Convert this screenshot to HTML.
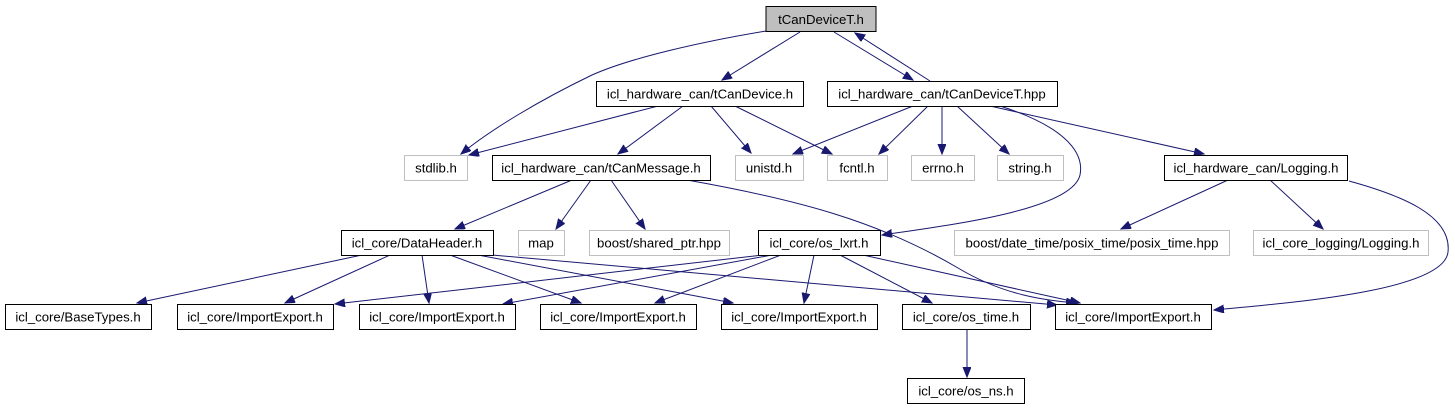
<!DOCTYPE html>
<html><head><meta charset="utf-8"><style>
html,body{margin:0;padding:0;background:#fff;}
svg{display:block;}
text{font-family:"Liberation Sans",sans-serif;font-size:13.2px;text-anchor:middle;fill:#000;}
.n{fill:#fff;stroke:#000;stroke-width:1;}
.g{fill:#fff;stroke:#bfbfbf;stroke-width:1;}
.e{fill:none;stroke:#191970;stroke-width:1;}
</style></head><body>
<svg width="1455" height="411" viewBox="0 0 1455 411" xmlns="http://www.w3.org/2000/svg">
<defs>
<marker id="a" markerUnits="userSpaceOnUse" markerWidth="12" markerHeight="10" refX="10" refY="4" orient="auto">
<path d="M0,0 L10,4 L0,8 z" fill="#191970" stroke="#191970"/>
</marker>
</defs>
<g class="e" marker-end="url(#a)">
<path d="M766,31 C700,42 630,58 592,75 C540,100 490,130 461,154"/>
<path d="M800,32 L722,80"/>
<path d="M834,32 L913,80"/>
<path d="M930,81 L855,33"/>
<path d="M658,106 L469,155"/>
<path d="M683,106 L618,154"/>
<path d="M711,106 L751,153"/>
<path d="M735,106 L832,154"/>
<path d="M913,106 L793,154"/>
<path d="M928,106 L879,154"/>
<path d="M942,106 L942,154"/>
<path d="M957,106 L1009,154"/>
<path d="M990,106 L1204,154"/>
<path d="M1000,106 C1060,125 1085,150 1080,175 C1072,210 950,225 882,235"/>
<path d="M572,180 L455,229"/>
<path d="M591,180 L556,229"/>
<path d="M611,180 L645,229"/>
<path d="M687,180 C800,200 880,222 958,268 C1005,296 1045,300 1076,303"/>
<path d="M1228,180 L1121,229"/>
<path d="M1270,180 L1323,229"/>
<path d="M1349,181 C1400,195 1452,215 1448,252 C1444,290 1300,302 1214,310"/>
<path d="M362,255 L137,303"/>
<path d="M390,255 L285,303"/>
<path d="M422,255 L429,303"/>
<path d="M450,255 L581,303"/>
<path d="M478,255 L733,303"/>
<path d="M492,255 L1057,305"/>
<path d="M763,255 L335,304"/>
<path d="M772,255 L503,304"/>
<path d="M781,255 L655,303"/>
<path d="M814,255 L804,303"/>
<path d="M840,255 L932,303"/>
<path d="M863,255 L1080,303"/>
<path d="M967,330 L967,377"/>
</g>
<rect x="766" y="6.5" width="110" height="25" fill="#bfbfbf" stroke="#000"/>
<text x="821" y="24">tCanDeviceT.h</text>
<rect class="n" x="596.5" y="81.5" width="207" height="25"/><text x="700" y="98.5">icl_hardware_can/tCanDevice.h</text>
<rect class="n" x="827.5" y="81.5" width="230" height="25"/><text x="942" y="98.5">icl_hardware_can/tCanDeviceT.hpp</text>
<rect class="g" x="404.5" y="155.5" width="63" height="25"/><text x="436" y="172.5">stdlib.h</text>
<rect class="n" x="492.5" y="155.5" width="218" height="25"/><text x="601" y="172.5">icl_hardware_can/tCanMessage.h</text>
<rect class="g" x="735.5" y="155.5" width="68" height="25"/><text x="769" y="172.5">unistd.h</text>
<rect class="g" x="827.5" y="155.5" width="60" height="25"/><text x="857" y="172.5">fcntl.h</text>
<rect class="g" x="911.5" y="155.5" width="63" height="25"/><text x="943" y="172.5">errno.h</text>
<rect class="g" x="997.5" y="155.5" width="66" height="25"/><text x="1030" y="172.5">string.h</text>
<rect class="n" x="1164.5" y="155.5" width="183" height="25"/><text x="1256" y="172.5">icl_hardware_can/Logging.h</text>
<rect class="n" x="341.5" y="230.5" width="152" height="25"/><text x="417" y="247.5">icl_core/DataHeader.h</text>
<rect class="g" x="518.5" y="230.5" width="46" height="25"/><text x="541" y="247.5">map</text>
<rect class="g" x="589.5" y="230.5" width="140" height="25"/><text x="659" y="247.5">boost/shared_ptr.hpp</text>
<rect class="n" x="758.5" y="230.5" width="122" height="25"/><text x="819" y="247.5">icl_core/os_lxrt.h</text>
<rect class="g" x="954.5" y="230.5" width="275" height="25"/><text x="1092" y="247.5">boost/date_time/posix_time/posix_time.hpp</text>
<rect class="g" x="1253.5" y="230.5" width="175" height="25"/><text x="1341" y="247.5">icl_core_logging/Logging.h</text>
<rect class="n" x="5.5" y="304.5" width="146" height="25"/><text x="78" y="321.5">icl_core/BaseTypes.h</text>
<rect class="n" x="177.5" y="304.5" width="156" height="25"/><text x="255" y="321.5">icl_core/ImportExport.h</text>
<rect class="n" x="359.5" y="304.5" width="156" height="25"/><text x="437" y="321.5">icl_core/ImportExport.h</text>
<rect class="n" x="540.5" y="304.5" width="156" height="25"/><text x="618" y="321.5">icl_core/ImportExport.h</text>
<rect class="n" x="721.5" y="304.5" width="156" height="25"/><text x="799" y="321.5">icl_core/ImportExport.h</text>
<rect class="n" x="902.5" y="304.5" width="128" height="25"/><text x="966" y="321.5">icl_core/os_time.h</text>
<rect class="n" x="1055.5" y="304.5" width="156" height="25"/><text x="1133" y="321.5">icl_core/ImportExport.h</text>
<rect class="n" x="907.5" y="378.5" width="117" height="25"/><text x="966" y="395.5">icl_core/os_ns.h</text>
</svg>
</body></html>
